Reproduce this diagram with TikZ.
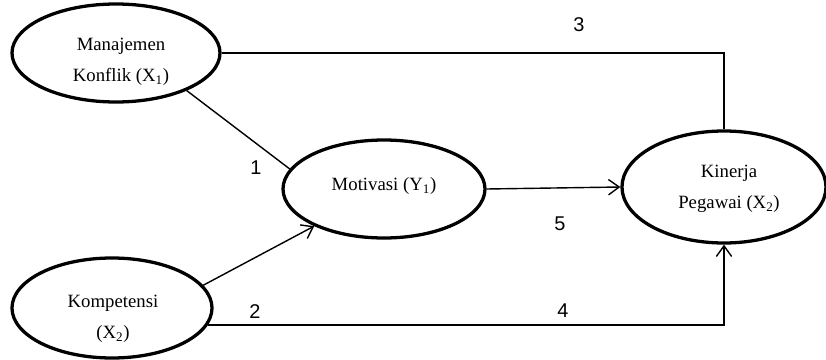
\documentclass[tikz,border=0pt]{standalone}
\usepackage{fontspec}
\setmainfont{Liberation Serif}
\newfontfamily\numfont{Liberation Sans}
\usetikzlibrary{arrows.meta,shapes.geometric}

\begin{document}
\begin{tikzpicture}[x=0.03cm,y=-0.03cm]
    \tikzset{
        var/.style={ellipse,draw,line width=2.8pt,inner sep=0pt},
        varlbl/.style={align=center,font=\fontsize{16}{26}\selectfont},
        num/.style={font=\numfont\fontsize{17}{20}\selectfont},
        link/.style={line width=1.2pt},
        linkarrow/.style={link,-{Straight Barb[length=3.2mm,width=4.6mm]}}
    }
    \useasboundingbox (0,0) rectangle (826,360);

    % variables
    \node[var,minimum width=6.24cm,minimum height=2.94cm] (man) at (116,53) {};
    \node[var,minimum width=6cm,minimum height=3cm] (komp) at (112,308) {};
    \node[var,minimum width=6.06cm,minimum height=2.94cm] (mot) at (384,189) {};
    \node[var,minimum width=6.12cm,minimum height=3.36cm] (kin) at (724,187) {};

    \node[varlbl] (manlbl) at (121,62) {Manajemen\\Konflik (X\textsubscript{1})};
    \node[varlbl] (komplbl) at (113,319) {Kompetensi\\(X\textsubscript{2})};
    \node[varlbl] (motlbl) at (384,186) {Motivasi (Y\textsubscript{1})};
    \node[varlbl] (kinlbl) at (729,189) {Kinerja\\Pegawai (X\textsubscript{2})};

    % paths
    \draw[link] (man.east) -| (kin.north);
    \draw[link] (man.-28) -- (mot.168);
    \draw[linkarrow] (komp.14) -- (mot.208);
    \draw[linkarrow] (mot.east) -- (kin.west);
    \draw[linkarrow] (komp.-10) -| (kin.south);

    % path numbers
    \node[num] (n1) at (256,168) {1};
    \node[num] (n2) at (255,312) {2};
    \node[num] (n3) at (579,25) {3};
    \node[num] (n4) at (563,311) {4};
    \node[num] (n5) at (560,224) {5};
\end{tikzpicture}
\end{document}
